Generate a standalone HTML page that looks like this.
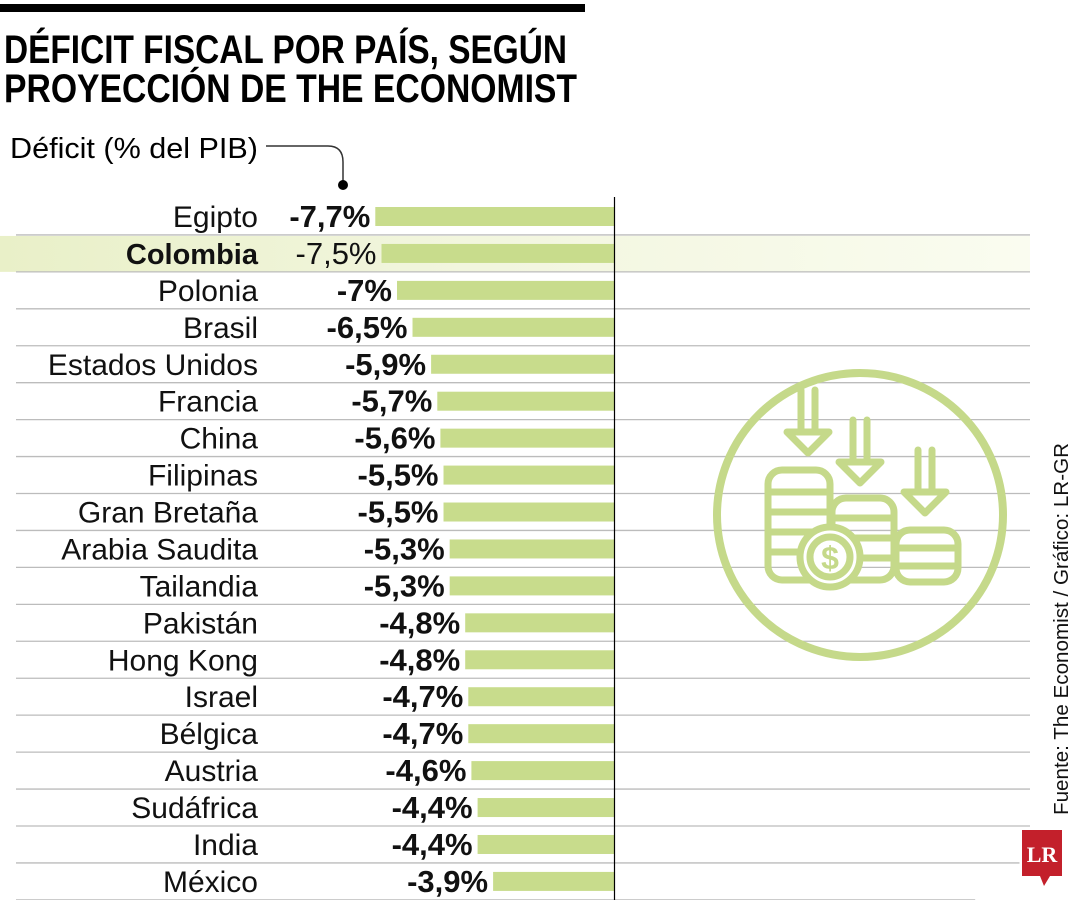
<!DOCTYPE html>
<html><head><meta charset="utf-8"><style>
html,body{margin:0;padding:0;background:#fff;width:1080px;height:900px;overflow:hidden}
svg{display:block;font-family:"Liberation Sans",sans-serif}
</style></head><body>
<svg id="chart" width="1080" height="900" viewBox="0 0 1080 900">
<rect x="0" y="4" width="585" height="8" fill="#000"/>
<text x="4" y="63" font-size="40" font-weight="bold" textLength="563" lengthAdjust="spacingAndGlyphs">DÉFICIT FISCAL POR PAÍS, SEGÚN</text>
<text x="4" y="102" font-size="40" font-weight="bold" textLength="573" lengthAdjust="spacingAndGlyphs">PROYECCIÓN DE THE ECONOMIST</text>
<text x="10" y="158" font-size="29" textLength="248" lengthAdjust="spacingAndGlyphs">Déficit (% del PIB)</text>
<path d="M266 146 H328 Q343 146 343 162 V183" fill="none" stroke="#333" stroke-width="1.5"/>
<circle cx="343" cy="185" r="5" fill="#000"/>
<defs><linearGradient id="hl" x1="0" x2="1" y1="0" y2="0"><stop offset="0" stop-color="#e9f0c8"/><stop offset="0.4" stop-color="#f1f5dc"/><stop offset="1" stop-color="#fafcf0"/></linearGradient></defs>
<g id="grid"></g>
<g id="bars"></g>
<line x1="614.5" y1="197" x2="614.5" y2="900" stroke="#000" stroke-width="1.2"/>
<g fill="none" stroke="#c5d98a" stroke-width="7" stroke-linecap="round" stroke-linejoin="round">
<ellipse cx="860" cy="515" rx="143" ry="142" stroke-width="8"/>
<path d="M801 390 V430 M815 390 V430 M787 432 H829 L808 453 Z"/>
<path d="M853 420 V460 M867 420 V460 M839 462 H881 L860 483 Z"/>
<path d="M918 450 V490 M932 450 V490 M904 492 H946 L925 513 Z"/>
<rect x="768" y="470" width="62" height="110" rx="14"/>
<path d="M770 492 H828 M770 512 H828 M770 532 H828 M770 552 H828"/>
<rect x="832" y="498" width="62" height="82" rx="14"/>
<path d="M834 518 H892 M834 538 H892 M834 558 H892"/>
<rect x="896" y="530" width="62" height="52" rx="14"/>
<path d="M898 548 H956 M898 566 H956"/>
<circle cx="830" cy="557" r="30" fill="#fff"/>
<circle cx="830" cy="557" r="20"/>
<text x="830" y="569" font-size="32" font-weight="bold" fill="#c5d98a" stroke="none" text-anchor="middle">$</text>
</g>
<text transform="translate(1068,815) rotate(-90)" font-size="20" fill="#111" textLength="372" lengthAdjust="spacingAndGlyphs">Fuente: The Economist / Gráfico: LR-GR</text>
<g>
<path d="M1022 830 H1062 V876 H1050 L1044 886 L1040 876 H1022 Z" fill="#c3202b"/>
<text x="1042" y="862" font-size="22" font-weight="bold" fill="#fff" text-anchor="middle" font-family="Liberation Serif,serif">LR</text>
</g>
</svg>
<script>
const countries=["Egipto","Colombia","Polonia","Brasil","Estados Unidos","Francia","China","Filipinas","Gran Bretaña","Arabia Saudita","Tailandia","Pakistán","Hong Kong","Israel","Bélgica","Austria","Sudáfrica","India","México"];
const values=[-7.7,-7.5,-7,-6.5,-5.9,-5.7,-5.6,-5.5,-5.5,-5.3,-5.3,-4.8,-4.8,-4.7,-4.7,-4.6,-4.4,-4.4,-3.9];
const valueLabels=["-7,7%","-7,5%","-7%","-6,5%","-5,9%","-5,7%","-5,6%","-5,5%","-5,5%","-5,3%","-5,3%","-4,8%","-4,8%","-4,7%","-4,7%","-4,6%","-4,4%","-4,4%","-3,9%"];
const highlight="Colombia";
const NS="http://www.w3.org/2000/svg";
const x0=614, pxPerUnit=31, rowTop=198, rowH=36.94;
const xScale=v=>x0+v*pxPerUnit;
const yScale=i=>rowTop+i*rowH;
const grid=document.getElementById('grid'), bars=document.getElementById('bars');
function mk(tag,attrs,parent){const e=document.createElementNS(NS,tag);for(const k in attrs)e.setAttribute(k,attrs[k]);parent.appendChild(e);return e;}
countries.forEach((c,i)=>{
  const y=yScale(i);
  if(c===highlight){
    const hb=mk('rect',{x:0,y:y+1,width:1030,height:rowH-1,fill:'url(#hl)'},grid);
    
    
  }
  const lineEnd = y+rowH>800 ? 975+ (900-(y+rowH))*1.2 : 1030;
  const gl=mk('line',{x1:16,y1:y+rowH,x2:Math.min(1030,lineEnd),y2:y+rowH,stroke:'#bcbcbc','stroke-width':1.3},grid);
  
  
  const bx=xScale(values[i]);
  const r=mk('rect',{x:bx,y:y+9,width:x0-bx,height:19,fill:'#c8dc8c'},bars);
  
  
  const lab=mk('text',{x:258,y:y+29,'font-size':c===highlight?29:30,'text-anchor':'end',fill:'#111','font-weight':c===highlight?'bold':'normal'},bars);
  lab.textContent=c;
  
  
  const vl=mk('text',{x:bx-5,y:y+29,'font-size':31,'text-anchor':'end',fill:'#111','font-weight':c===highlight?'normal':'bold'},bars);
  vl.textContent=valueLabels[i];
  
  
});
</script>
</body></html>
